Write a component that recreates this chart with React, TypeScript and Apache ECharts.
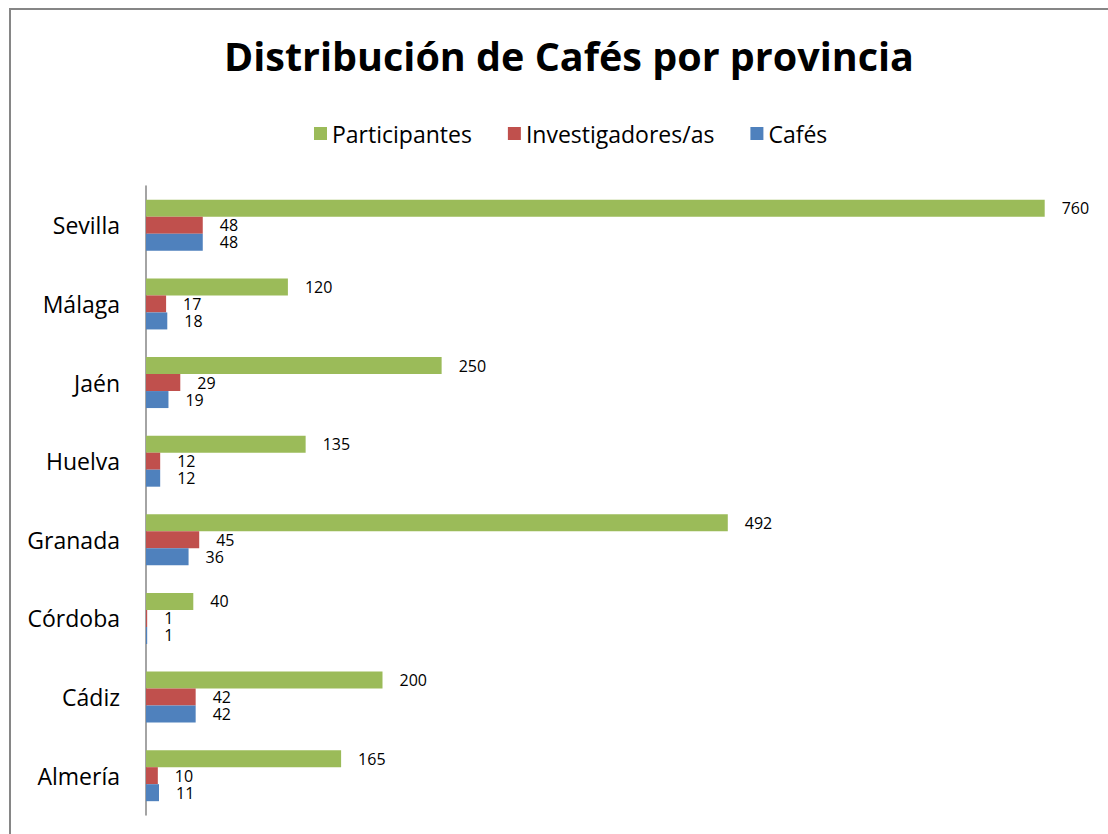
import React, { useEffect, useRef } from "react";
import * as echarts from "echarts";

const categories = ["Almería", "Cádiz", "Córdoba", "Granada", "Huelva", "Jaén", "Málaga", "Sevilla"];
const cafes = [11, 42, 1, 36, 12, 19, 18, 48];
const investigadores = [10, 42, 1, 45, 12, 29, 17, 48];
const participantes = [165, 200, 40, 492, 135, 250, 120, 760];
const legendOrder = ["Participantes", "Investigadores/as", "Cafés"];

const FONT = "'Open Sans', 'Noto Sans', sans-serif";

export default function App() {
  const ref = useRef<HTMLDivElement>(null);
  useEffect(() => {
    document.body.style.margin = "0";
    const chart = echarts.init(ref.current!, null, { renderer: "svg" });
    const label = {
      show: true,
      position: "right" as const,
      distance: 17,
      color: "#000",
      fontSize: 16,
      lineHeight: 16,
      fontFamily: FONT,
    };
    chart.setOption({
      animation: false,
      backgroundColor: "#fff",
      title: {
        text: "Distribución de Cafés por provincia",
        left: 219,
        top: 31,
        textStyle: { fontSize: 39.5, fontWeight: "bold", color: "#000", fontFamily: FONT },
      },
      legend: {
        data: legendOrder,
        top: 117,
        left: 309,
        itemWidth: 13,
        itemHeight: 13,
        itemGap: 36,
        icon: "rect",
        textStyle: { fontSize: 23, color: "#000", fontFamily: FONT },
      },
      graphic: [
        {
          type: "rect",
          shape: { x: 10, y: 9, width: 1110, height: 840 },
          style: { fill: "none", stroke: "#868686", lineWidth: 2 },
          silent: true,
        },
      ],
      grid: { left: 146, right: 16, top: 186, bottom: 19, containLabel: false },
      xAxis: {
        type: "value",
        min: 0,
        max: 800,
        show: false,
        splitLine: { show: false },
      },
      yAxis: {
        type: "category",
        data: categories,
        axisLine: { show: true, lineStyle: { color: "#868686", width: 1.5 } },
        axisTick: { show: false },
        axisLabel: { color: "#000", fontSize: 23, fontFamily: FONT, margin: 26 },
      },
      series: [
        {
          name: "Participantes",
          type: "bar",
          data: participantes,
          barWidth: 17,
          barGap: "0%",
          itemStyle: { color: "#9BBB59" },
          label,
        },
        {
          name: "Investigadores/as",
          type: "bar",
          data: investigadores,
          barWidth: 17,
          barGap: "0%",
          itemStyle: { color: "#C0504D" },
          label,
        },
        {
          name: "Cafés",
          type: "bar",
          data: cafes,
          barWidth: 17,
          barGap: "0%",
          itemStyle: { color: "#4F81BD" },
          label,
        },
      ],
    });
    return () => chart.dispose();
  }, []);
  return <div ref={ref} style={{ width: 1108, height: 834 }} />;
}
